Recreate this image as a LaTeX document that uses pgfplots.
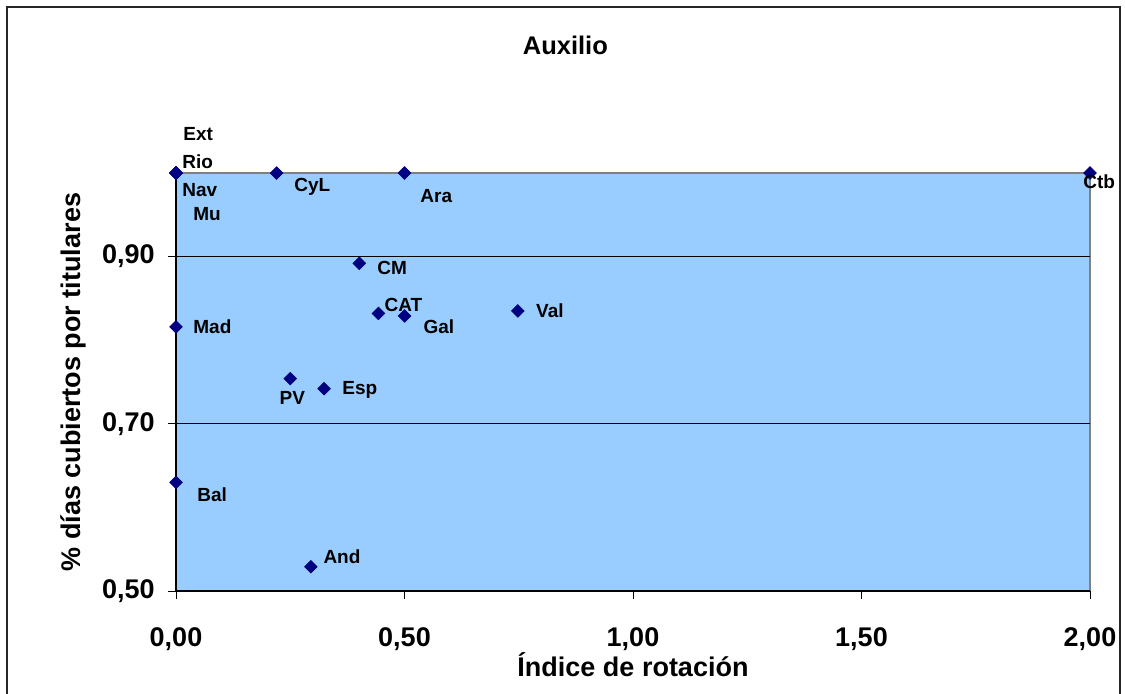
\documentclass[border=0pt]{standalone}
\usepackage{pgfplots}
\pgfplotsset{compat=1.18}
\usepackage{pgfplotstable}
\usepackage{fontspec}
\setmainfont{Liberation Sans}
\definecolor{plotbg}{HTML}{99CCFF}
\definecolor{navymark}{HTML}{000080}

\pgfplotstableread{
x      y      lab  dx     dy
0.000  1.000  Ext  3.5    16.5
0.000  1.000  Rio  3.0    2.5
0.000  1.000  Nav  3.0    -11.5
0.000  1.000  Mu   8.5    -23.5
0.220  1.000  CyL  8.75   -9.0
0.500  1.000  Ara  7.75   -14.5
2.000  1.000  Ctb  -3.5   -7.5
0.401  0.892  CM   8.85   -5.85
0.443  0.832  CAT  2.85   1.15
0.500  0.829  Gal  9.35   -8.65
0.000  0.816  Mad  8.5    -3.15
0.748  0.835  Val  9.0    -3.5
0.250  0.754  PV   -5.5   -13.0
0.324  0.742  Esp  9.0    -3.0
0.000  0.630  Bal  10.5   -9.65
0.295  0.529  And  6.15   1.85
}\datatable

\begin{document}
\begin{tikzpicture}
\begin{axis}[
  at={(88pt,51pt)}, anchor=south west,
  scale only axis, width=457pt, height=209pt,
  xmin=0, xmax=2, ymin=0.5, ymax=1.0,
  enlargelimits=false,
  clip=false,
  axis background/.style={fill=plotbg, draw=gray, line width=0.6pt},
  axis lines=left,
  axis line style={-, black, line width=0.6pt},
  xtick={0,0.5,1,1.5,2},
  xticklabels={{0,00},{0,50},{1,00},{1,50},{2,00}},
  ytick={0.5,0.7,0.9},
  yticklabels={{0,50},{0,70},{0,90}},
  tick align=outside,
  major tick length=4pt,
  tick style={black, line width=0.5pt},
  ymajorgrids,
  grid style={black, line width=0.5pt},
  xticklabel style={anchor=north, inner sep=0pt, yshift=-14pt, font=\fontsize{13.5}{16}\selectfont\bfseries},
  yticklabel style={anchor=east, inner sep=0pt, xshift=-6.5pt, font=\fontsize{13.5}{16}\selectfont\bfseries},
  title={Auxilio},
  title style={at={(axis description cs:0.426,1.2536)}, anchor=base, inner sep=0pt, font=\fontsize{12.75}{15}\selectfont\bfseries},
  xlabel={Índice de rotación},
  xlabel style={at={(axis description cs:0.5,-0.205)}, anchor=base, inner sep=0pt, font=\fontsize{13.5}{16}\selectfont\bfseries},
  ylabel={\% días cubiertos por titulares},
  ylabel style={at={(axis description cs:-0.112,0.5)}, anchor=center, rotate=0, inner sep=0pt, font=\fontsize{13.5}{16}\selectfont\bfseries},
]
\addplot[
  only marks,
  mark=square*,
  mark size=2.2pt,
  mark options={rotate=45, fill=navymark, draw=navymark},
  nodes near coords,
  point meta=explicit symbolic,
  visualization depends on={\thisrow{dx}\as\dx},
  visualization depends on={\thisrow{dy}\as\dy},
  every node near coord/.append style={anchor=base west, inner sep=0pt, xshift=\dx, yshift=\dy, font=\fontsize{9.5}{11}\selectfont\bfseries, text=black},
] table[x=x, y=y, meta=lab] {\datatable};
\end{axis}
\draw[black!85, line width=1pt] (3.5pt,-5pt) rectangle (560pt,343pt);
\pgfresetboundingbox
\path (0,0) rectangle (562.5pt,346.5pt);
\end{tikzpicture}
\end{document}
